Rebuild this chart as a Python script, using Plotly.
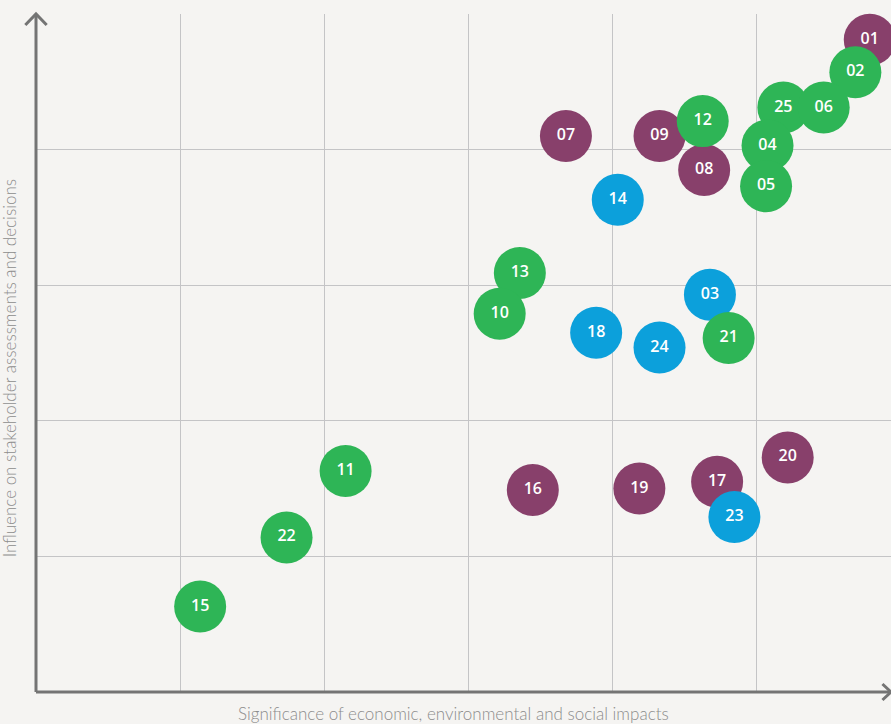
import plotly.graph_objects as go

# Data (drawing order matters: later points are drawn on top)
labels = ["01", "02", "25", "06", "09", "08", "12", "04", "05", "07", "14",
          "13", "10", "03", "21", "18", "24", "20", "11", "16", "19", "17", "23", "22", "15"]
significance = [5.79, 5.69, 5.19, 5.47, 4.33, 4.64, 4.63, 5.08, 5.07, 3.68, 4.04,
                3.36, 3.22, 4.68, 4.81, 3.89, 4.33, 5.22, 2.15, 3.45, 4.19, 4.73, 4.85, 1.74, 1.14]
influence = [4.81, 4.57, 4.31, 4.31, 4.10, 3.85, 4.21, 4.03, 3.73, 4.10, 3.63,
             3.09, 2.79, 2.93, 2.61, 2.65, 2.54, 1.73, 1.63, 1.49, 1.50, 1.55, 1.29, 1.14, 0.63]
groups = ["p", "g", "g", "g", "p", "p", "g", "g", "g", "p", "b",
          "g", "g", "b", "g", "b", "b", "p", "g", "p", "p", "p", "b", "g", "g"]
group_colors = {"p": "#88406b", "g": "#2eb556", "b": "#0ca0db"}

x_title = "Significance of economic, environmental and social impacts"
y_title = "Influence on stakeholder assessments and decisions"

fig = go.Figure()
fig.add_trace(go.Scatter(
    x=significance, y=influence, mode="markers+text", text=labels,
    textposition="middle center",
    textfont=dict(family="Open Sans", size=16, color="white", weight=600),
    marker=dict(size=52, color=[group_colors[g] for g in groups], line=dict(width=0), opacity=1),
    cliponaxis=False, hoverinfo="skip",
))

axis_col = "#747474"
shapes = [
    # y axis with arrow
    dict(type="line", xref="paper", yref="paper", x0=0, x1=0, y0=0, y1=1,
         line=dict(color=axis_col, width=3)),
    dict(type="path", xref="x domain", yref="y domain",
         path="M -0.0125,0.9838 L 0,1 L 0.0125,0.9838", line=dict(color=axis_col, width=3)),
    # x axis with arrow
    dict(type="line", xref="paper", yref="paper", x0=0, x1=1, y0=0, y1=0,
         line=dict(color=axis_col, width=3)),
    dict(type="path", xref="x domain", yref="y domain",
         path="M 0.99,0.0118 L 1.0,0 L 0.99,-0.0118", line=dict(color=axis_col, width=3)),
]

fig.update_layout(
    width=891, height=724,
    margin=dict(l=36, r=0, t=14, b=32),
    paper_bgcolor="#f5f4f2", plot_bgcolor="#f5f4f2",
    showlegend=False,
    hovermode=False,
    shapes=shapes,
    xaxis=dict(range=[0, 855 / 144], dtick=1, tick0=0, showgrid=True, gridcolor="#c4c4c6",
               gridwidth=1, zeroline=False, showticklabels=False, showline=False, ticks=""),
    yaxis=dict(range=[0, 5], dtick=1, tick0=0, showgrid=True, gridcolor="#c4c4c6",
               gridwidth=1, zeroline=False, showticklabels=False, showline=False, ticks=""),
    annotations=[
        dict(text=x_title, xref="paper", yref="paper", x=(453 - 36) / 855, y=-0.031,
             xanchor="center", yanchor="middle", showarrow=False,
             font=dict(family="Lato", size=17, color="#8c8c8c", weight=300)),
        dict(text=y_title, xref="paper", yref="paper", x=-0.03, y=(692 - 368) / 678,
             xanchor="center", yanchor="middle", showarrow=False, textangle=-90,
             font=dict(family="Lato", size=17, color="#8c8c8c", weight=300)),
    ],
)

fig.write_html(
    "out.html",
    config={"displayModeBar": False},
    post_script="document.body.style.margin='0';document.body.style.background='#f5f4f2';",
)
